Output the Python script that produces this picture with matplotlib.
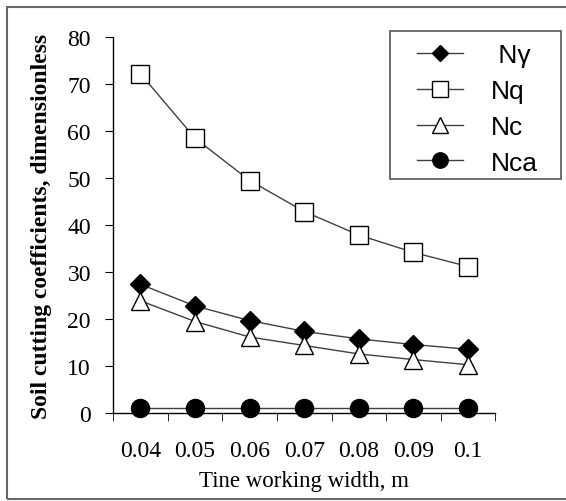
import matplotlib
matplotlib.use('Agg')
import matplotlib.pyplot as plt
from matplotlib.patches import Rectangle

#--- data
widths = ['0.04', '0.05', '0.06', '0.07', '0.08', '0.09', '0.1']
n_gamma = [27.4, 22.8, 19.7, 17.4, 15.8, 14.6, 13.6]
n_q = [72.2, 58.5, 49.5, 42.9, 37.9, 34.2, 31.2]
n_c = [23.9, 19.5, 16.2, 14.4, 12.6, 11.4, 10.3]
n_ca = [1.2, 1.2, 1.2, 1.2, 1.2, 1.2, 1.2]

W, H = 566, 502
fig = plt.figure(figsize=(W / 100, H / 100), dpi=100)
ax = fig.add_axes([0.2, 0.175, 0.675, 0.749])

x = range(len(widths))
lc = '#404040'
ax.plot(x, n_gamma, '-D', color=lc, lw=1, mfc='black', mec='black', ms=10, label=' Nγ', zorder=3)
ax.plot(x, n_q, '-s', color=lc, lw=1, mfc='white', mec='black', ms=13, label='Nq', zorder=3)
ax.plot(x, n_c, '-^', color=lc, lw=1, mfc='white', mec='black', ms=13, label='Nc', zorder=3)
ax.plot(x, n_ca, '-o', color=lc, lw=1, mfc='black', mec='black', ms=13, label='Nca', zorder=3)

ax.set_xlim(-0.5, 6.5)
ax.set_ylim(0, 80)
ax.set_yticks(range(0, 81, 10))
ax.set_xticks(list(x))
ax.set_xticklabels(widths)
ax.set_xticks([i - 0.5 for i in range(8)], minor=True)
ax.tick_params(axis='x', which='major', length=0, pad=19)
ax.tick_params(axis='x', which='minor', length=6, direction='out')
ax.tick_params(axis='y', length=6, direction='out', pad=10)
for lab in ax.get_xticklabels() + ax.get_yticklabels():
    lab.set_family('Liberation Serif')
    lab.set_fontsize(17)
ax.spines['top'].set_visible(False)
ax.spines['right'].set_visible(False)
for s in ax.spines.values():
    s.set_linewidth(1)
for ln in ax.lines:
    ln.set_clip_on(False)

ax.set_xlabel('Tine working width, m', family='Liberation Serif', fontsize=16.5, labelpad=7)
ax.set_ylabel('Soil cutting coefficients, dimensionless', family='Liberation Serif',
              fontsize=17, fontweight='bold', labelpad=11)

#--- legend without its own frame, frame drawn separately
leg = ax.legend(loc='upper left', bbox_to_anchor=(417 / W, 1 - 44 / H), bbox_transform=fig.transFigure,
                frameon=False, prop={'family': 'Liberation Sans', 'size': 19}, handlelength=1.75,
                labelspacing=0.45, borderpad=0, handletextpad=1.05, borderaxespad=0,
                markerscale=0.85)
fig.patches.append(Rectangle((390 / W, 1 - 180 / H), 171 / W, 148 / H, transform=fig.transFigure,
                             fill=False, edgecolor='#555555', lw=1.2))

#--- outer border
fig.patches.append(Rectangle((7 / W, 2 / H), 1.05, 492 / H, transform=fig.transFigure,
                             fill=False, edgecolor='#666666', lw=1.5))

fig.savefig('out.png', dpi=100)
